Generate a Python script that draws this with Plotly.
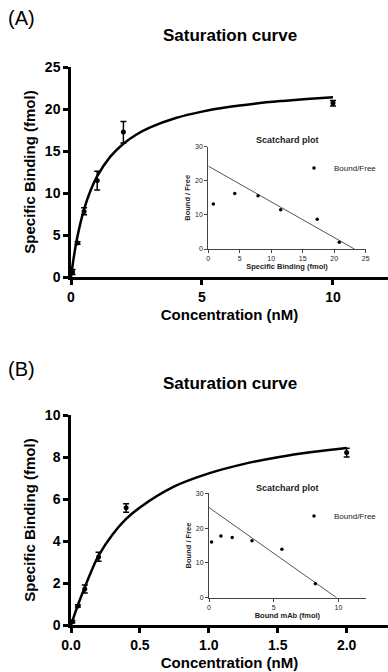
import plotly.graph_objects as go

# ---------------- Panel A data ----------------
a_conc = [0.06, 0.25, 0.5, 1, 2, 10]
a_bind = [0.6, 4.05, 7.8, 11.5, 17.25, 20.7]
a_err_up = [0.3, 0.15, 0.45, 1.1, 1.25, 0.3]
a_err_dn = [0.3, 0.15, 0.4, 1.15, 1.3, 0.35]
a_fit_x = [0, 0.1, 0.25, 0.5, 0.75, 1, 1.5, 2, 2.5, 3, 4, 5, 6, 7, 8, 9, 10]
a_fit_y = [0, 2.23, 4.87, 8.07, 10.32, 12.0, 14.33, 15.87, 16.97, 17.79, 18.93,
           19.69, 20.23, 20.63, 20.94, 21.19, 21.40]
a_sc_x = [0.8, 4.2, 7.9, 11.5, 17.3, 20.8]
a_sc_y = [13.2, 16.3, 15.6, 11.5, 8.7, 1.95]
a_line_x = [0, 23.2]
a_line_y = [24.3, 0]

# ---------------- Panel B data ----------------
b_conc = [0.01, 0.05, 0.1, 0.2, 0.4, 2.0]
b_bind = [0.16, 0.91, 1.71, 3.24, 5.58, 8.21]
b_err_up = [0.05, 0.05, 0.19, 0.22, 0.19, 0.21]
b_err_dn = [0.05, 0.05, 0.19, 0.2, 0.21, 0.21]
b_fit_x = [0, 0.025, 0.05, 0.1, 0.15, 0.2, 0.3, 0.4, 0.5, 0.75, 1, 1.25, 1.5, 1.75, 2]
b_fit_y = [0, 0.48, 0.95, 1.8, 2.6, 3.3, 4.3, 5.05, 5.6, 6.6, 7.22, 7.66,
           7.99, 8.24, 8.43]
b_sc_x = [0.2, 0.92, 1.79, 3.32, 5.63, 8.21]
b_sc_y = [16.0, 17.7, 17.3, 16.4, 13.9, 4.0]
b_line_x = [0, 9.85]
b_line_y = [25.9, 0]

FONT = "Liberation Sans, Arial, sans-serif"
W, H = 388, 672

def px_x(p):
    return p / W

def px_y(p):
    return 1 - p / H

fig = go.Figure()

def add_main(xa, ya, x, y, eu, ed, fx, fy):
    fig.add_trace(go.Scatter(x=fx, y=fy, mode="lines", line=dict(color="black", width=2.5),
                             xaxis=xa, yaxis=ya, showlegend=False, hoverinfo="skip",
                             line_shape="spline", cliponaxis=False))
    fig.add_trace(go.Scatter(x=x, y=y, mode="markers",
                             marker=dict(color="black", size=5),
                             error_y=dict(type="data", array=eu, arrayminus=ed,
                                          color="black", thickness=1.5, width=3),
                             xaxis=xa, yaxis=ya, showlegend=False, cliponaxis=False))

def add_inset(xa, ya, x, y, lx, ly, legend):
    fig.add_trace(go.Scatter(x=lx, y=ly, mode="lines", line=dict(color="#555555", width=1),
                             xaxis=xa, yaxis=ya, showlegend=False, hoverinfo="skip",
                             cliponaxis=False))
    fig.add_trace(go.Scatter(x=x, y=y, mode="markers", name="Bound/Free",
                             marker=dict(color="black", size=3.5),
                             xaxis=xa, yaxis=ya, showlegend=True, legend=legend,
                             cliponaxis=False))

add_main("x", "y", a_conc, a_bind, a_err_up, a_err_dn, a_fit_x, a_fit_y)
add_inset("x2", "y2", a_sc_x, a_sc_y, a_line_x, a_line_y, "legend")
add_main("x3", "y3", b_conc, b_bind, b_err_up, b_err_dn, b_fit_x, b_fit_y)
add_inset("x4", "y4", b_sc_x, b_sc_y, b_line_x, b_line_y, "legend2")

main_tick = dict(family=FONT, size=14, color="black", weight="bold")
main_title = dict(family=FONT, size=15, color="black", weight="bold")
ins_tick = dict(family=FONT, size=7, color="#222222")
ins_title = dict(family=FONT, size=7.5, color="#222222", weight="bold")

def axis(domain, anchor, rng, dtick, title, main, standoff):
    col = "black" if main else "#444444"
    return dict(domain=domain, anchor=anchor, range=rng, dtick=dtick, tick0=0,
                automargin=False,
                showline=True, linecolor=col, linewidth=2.5 if main else 1,
                ticks="outside", ticklen=5 if main else 3, tickwidth=2.5 if main else 1,
                tickcolor=col, showgrid=False, zeroline=False,
                tickfont=main_tick if main else ins_tick,
                title=dict(text=title, font=main_title if main else ins_title,
                           standoff=standoff))

fig.update_layout(
    width=W, height=H,
    margin=dict(l=0, r=0, t=0, b=0, autoexpand=False),
    paper_bgcolor="white", plot_bgcolor="white",
    xaxis=axis([px_x(71), 1.0], "y", [0, 12.1], 5, "Concentration (nM)", True, 6),
    yaxis=axis([px_y(277), px_y(67)], "x", [0, 25], 5, "Specific Binding (fmol)", True, 6),
    xaxis2=axis([px_x(208.3), px_x(365.7)], "y2", [0, 25], 5, "Specific Binding (fmol)", False, 2),
    yaxis2=axis([px_y(249), px_y(146.7)], "x2", [0, 30], 10, "Bound / Free", False, 3),
    xaxis3=axis([px_x(71), 1.0], "y3", [0, 2.3], 0.5, "Concentration (nM)", True, 6),
    yaxis3=axis([px_y(625), px_y(415)], "x3", [0, 10], 2, "Specific Binding (fmol)", True, 6),
    xaxis4=axis([px_x(209), px_x(365.7)], "y4", [0, 12.1], 5, "Bound mAb (fmol)", False, 2),
    yaxis4=axis([px_y(597.7), px_y(493.3)], "x4", [0, 30], 10, "Bound / Free", False, 3),
    legend=dict(x=px_x(294), y=px_y(168), xanchor="left", yanchor="middle",
                bgcolor="rgba(0,0,0,0)", font=dict(family=FONT, size=8, color="#222222"),
                itemwidth=30),
    legend2=dict(x=px_x(294), y=px_y(516), xanchor="left", yanchor="middle",
                 bgcolor="rgba(0,0,0,0)", font=dict(family=FONT, size=8, color="#222222"),
                 itemwidth=30),
)
fig.update_layout(xaxis3=dict(tickformat=".1f"))

annotations = [
    dict(text="(A)", x=px_x(6), y=px_y(18), xanchor="left", yanchor="middle",
         font=dict(family=FONT, size=20, color="black")),
    dict(text="Saturation curve", x=px_x(230), y=px_y(35), xanchor="center", yanchor="middle",
         font=dict(family=FONT, size=17, color="black", weight="bold")),
    dict(text="Scatchard plot", x=px_x(287), y=px_y(140), xanchor="center", yanchor="middle",
         font=dict(family=FONT, size=9, color="#222222", weight="bold")),
    dict(text="(B)", x=px_x(6), y=px_y(369), xanchor="left", yanchor="middle",
         font=dict(family=FONT, size=20, color="black")),
    dict(text="Saturation curve", x=px_x(230), y=px_y(383), xanchor="center", yanchor="middle",
         font=dict(family=FONT, size=17, color="black", weight="bold")),
    dict(text="Scatchard plot", x=px_x(287), y=px_y(488), xanchor="center", yanchor="middle",
         font=dict(family=FONT, size=9, color="#222222", weight="bold")),
]
for a in annotations:
    a.update(xref="paper", yref="paper", showarrow=False)
fig.update_layout(annotations=annotations)

fig.write_html("out.html", config={"displayModeBar": False},
               post_script="document.body.style.margin='0';document.body.style.overflow='hidden';")
